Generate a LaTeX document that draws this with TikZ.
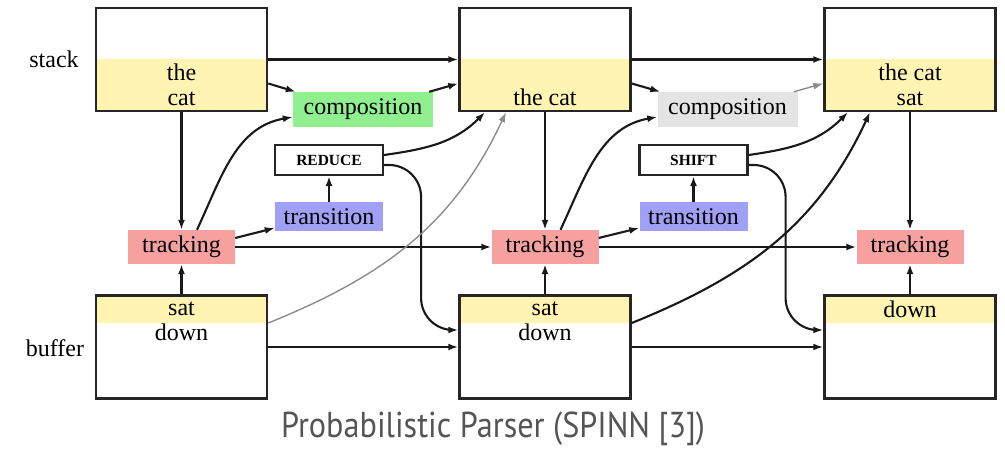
\documentclass[tikz,border=0pt]{standalone}
\usepackage{fontspec}
\setmainfont{Liberation Serif}
\newfontfamily\titlefont{PT Sans}
\usetikzlibrary{arrows.meta,calc}

\definecolor{memyellow}{RGB}{255,244,178}
\definecolor{trackred}{RGB}{246,160,160}
\definecolor{compgreen}{RGB}{144,240,144}
\definecolor{transblue}{RGB}{160,160,248}
\definecolor{compgrey}{RGB}{228,228,228}
\definecolor{titlegrey}{RGB}{85,85,85}

\begin{document}
\begin{tikzpicture}[x=1pt,y=-1pt,
  every node/.style={font=\fontsize{24}{25}\selectfont, inner sep=0pt, align=center},
  memframe/.style={draw=black!85, line width=2.5pt, minimum width=171pt, minimum height=103pt},
  stackmem/.style={memframe, path picture={\fill[memyellow]
      (path picture bounding box.south west) rectangle
      ([yshift=52pt]path picture bounding box.south east);}},
  buffermem/.style={memframe, path picture={\fill[memyellow]
      (path picture bounding box.north west) rectangle
      ([yshift=-28pt]path picture bounding box.north east);}},
  tracker/.style={fill=trackred, minimum width=107pt, minimum height=34pt},
  composer/.style={minimum width=140pt, minimum height=35pt},
  transbox/.style={fill=transblue, minimum width=108pt, minimum height=29pt},
  opbox/.style={draw=black!85, line width=2.2pt, minimum width=108pt, minimum height=30pt,
      font=\fontsize{15.5}{17}\selectfont\bfseries},
  arr/.style={-{Latex[length=10pt,width=7pt]}, line width=2.1pt, draw=black!90},
  greyarr/.style={-{Latex[length=10pt,width=7pt]}, line width=1.4pt, draw=black!45},
]
\useasboundingbox (0,0) rectangle (1005,462);

% memory boxes: stack on top, buffer below
\node[stackmem] (s1) at (181.5,59.5) {};
\node[stackmem] (s2) at (545,59.5) {};
\node[stackmem] (s3) at (910,59.5) {};
\node[buffermem] (b1) at (181.5,347) {};
\node[buffermem] (b2) at (545,347) {};
\node[buffermem] (b3) at (910,347) {};

\node (s1txt) at (181.5,84.5) {the\\cat};
\node (s2txt) at (545,97) {the cat};
\node (s3txt) at (910,84.5) {the cat\\sat};
\node (b1txt) at (181.5,321) {sat\\down};
\node (b2txt) at (545,321) {sat\\down};
\node (b3txt) at (910,309) {down};

\node (stacklbl) at (54,59) {stack};
\node (bufferlbl) at (55,348) {buffer};

% tracking, composition and transition units
\node[tracker] (t1) at (181.5,247) {tracking};
\node[tracker] (t2) at (545,247) {tracking};
\node[tracker] (t3) at (910,247) {tracking};

\node[composer, fill=compgreen] (c1) at (363,109.5) {composition};
\node[composer, fill=compgrey] (c2) at (727.5,109.5) {composition};

\node[opbox] (op1) at (329,160) {REDUCE};
\node[opbox] (op2) at (693.5,160) {SHIFT};

\node[transbox] (tr1) at (329,216.5) {transition};
\node[transbox] (tr2) at (693.5,216.5) {transition};

% first step (REDUCE)
\draw[arr] (s1) -- (s2);
\draw[arr] ([yshift=-24pt]s1.east) -- ([xshift=3pt]c1.north west);
\draw[arr] ([xshift=-4pt]c1.north east) -- ([yshift=-24pt]s2.west);
\draw[arr] ([xshift=15.5pt]t1.north) to[out=65,in=190] ([yshift=-7.5pt]c1.west);
\draw[arr] ([yshift=9pt]t1.east) -- ([yshift=-11.5pt]tr1.west);
\draw[arr] (tr1) -- (op1);
\draw[arr] ([yshift=5pt]op1.east) to[out=8,in=-135] ([xshift=-60pt]s2.south);
\draw[arr, rounded corners=32pt] ([yshift=-5pt]op1.east) -- ++(37,0) |- ([yshift=17pt]b2.west);
\draw[arr] (s1) -- (t1);
\draw[arr] (b1) -- (t1);
\draw[arr] (t1) -- (t2);
\draw[arr] (b1) -- (b2);
\draw[greyarr] ([yshift=24pt]b1.east) to[out=22,in=-115] ([xshift=-39pt]s2.south);

% second step (SHIFT)
\draw[arr] (s2) -- (s3);
\draw[arr] ([yshift=-24pt]s2.east) -- ([xshift=3pt]c2.north west);
\draw[greyarr] ([xshift=-4pt]c2.north east) -- ([yshift=-24pt]s3.west);
\draw[arr] ([xshift=15.5pt]t2.north) to[out=65,in=190] ([yshift=-7.5pt]c2.west);
\draw[arr] ([yshift=9pt]t2.east) -- ([yshift=-11.5pt]tr2.west);
\draw[arr] (tr2) -- (op2);
\draw[arr] ([yshift=5pt]op2.east) to[out=8,in=-135] ([xshift=-62pt]s3.south);
\draw[arr, rounded corners=32pt] ([yshift=-5pt]op2.east) -- ++(37,0) |- ([yshift=17pt]b3.west);
\draw[arr] (s2) -- (t2);
\draw[arr] (b2) -- (t2);
\draw[arr] (t2) -- (t3);
\draw[arr] (b2) -- (b3);
\draw[arr] ([yshift=24pt]b2.east) to[out=22,in=-115] ([xshift=-40pt]s3.south);
\draw[arr] (s3) -- (t3);
\draw[arr] (b3) -- (t3);

\node[font=\titlefont\fontsize{36}{40}\selectfont, text=titlegrey, anchor=base] (title)
  at (493,438) {\scalebox{0.895}[1]{Probabilistic Parser (SPINN [3])}};
\end{tikzpicture}
\end{document}
